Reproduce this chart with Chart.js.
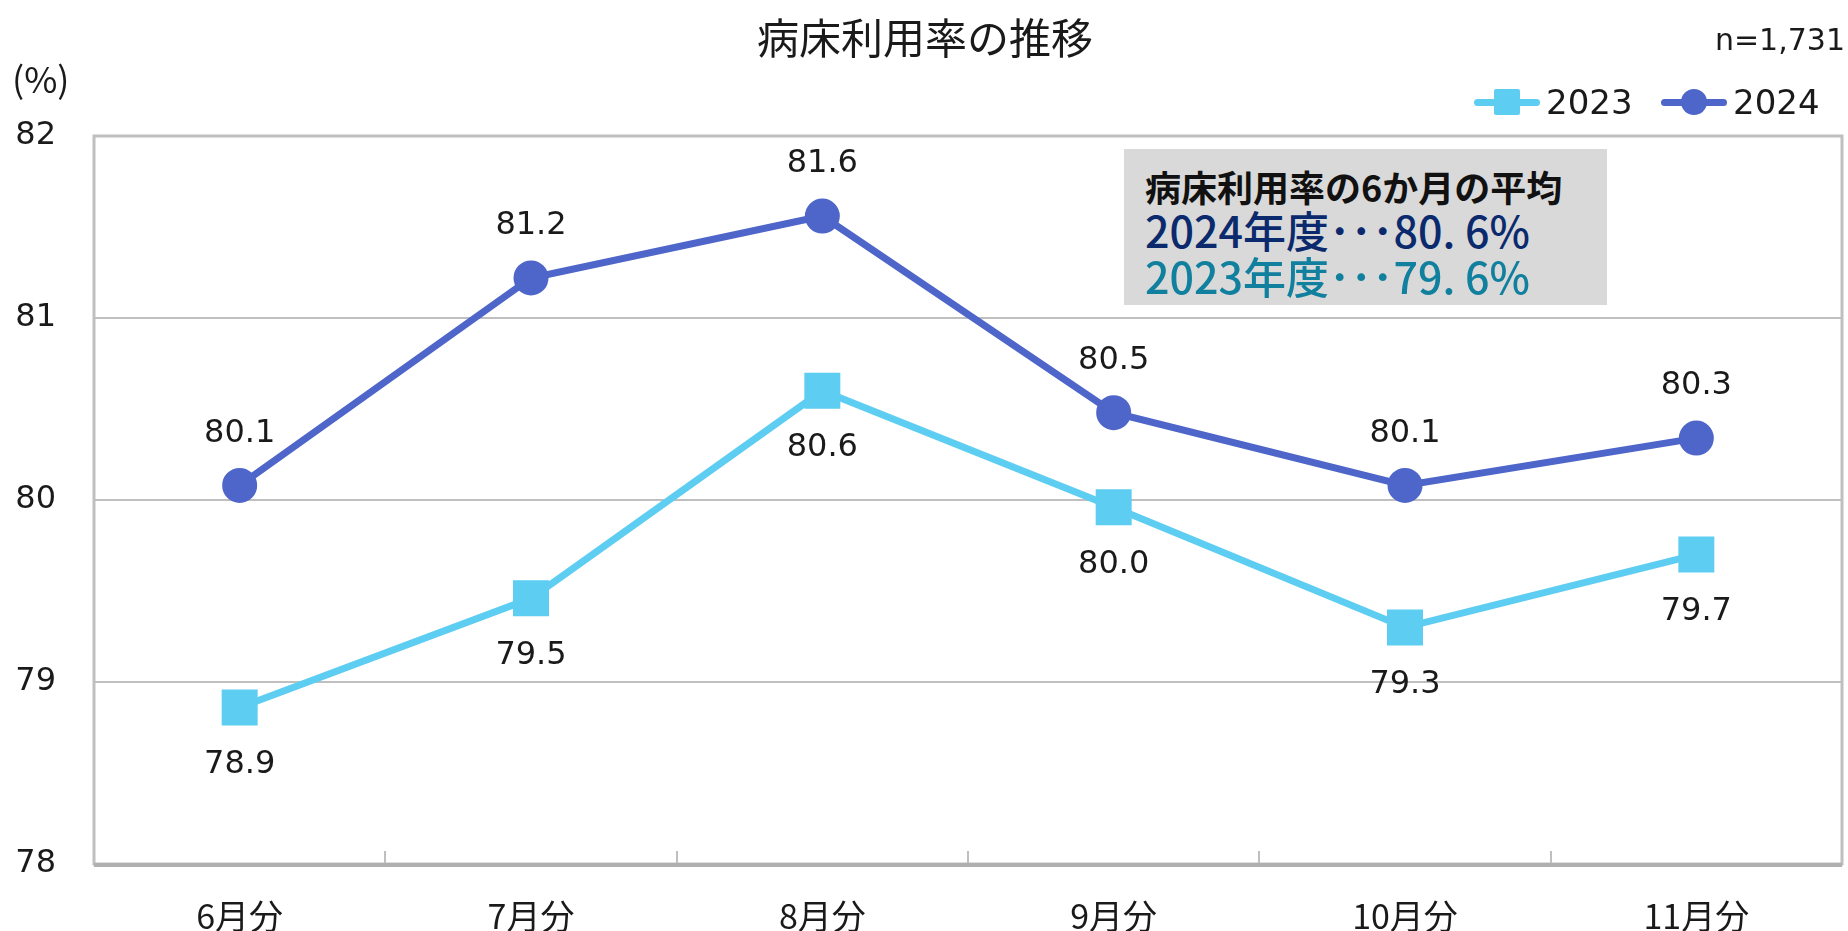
<!DOCTYPE html>
<html lang="ja">
<head>
<meta charset="utf-8">
<script src="https://cdn.jsdelivr.net/npm/chart.js@4"></script>
<style>
  html, body { margin: 0; padding: 0; background: #fff; }
  #wrap { position: relative; width: 1848px; height: 931px; overflow: hidden; }
  #chart { position: absolute; left: 0; top: 0; }
  .txt { position: absolute; white-space: nowrap; color: #1a1a1a; line-height: 1; }
  #title { left: 925px; top: 35px; transform: translate(-50%, -50%); font: 42px "Noto Sans CJK JP"; }
  #unit { left: 12px; top: 77px; transform: translateY(-50%); font: 36px "Noto Sans CJK JP"; }
  #nval { right: 3px; top: 39px; transform: translateY(-50%); font: 30px "DejaVu Sans"; }
  .leg { position: absolute; top: 102px; transform: translateY(-50%); display: flex; align-items: center; font: 34px "DejaVu Sans"; color: #1a1a1a; }
  .leg .ln { position: relative; width: 66px; height: 7px; border-radius: 4px; margin-right: 6px; }
  .leg .mk { position: absolute; left: 50%; top: 50%; transform: translate(-50%, -50%); }
  #box { position: absolute; left: 1124px; top: 149px; width: 483px; height: 156px; background: #d9d9d9; }
  #box div { position: absolute; left: 21px; white-space: nowrap; transform: translateY(-50%); line-height: 1; font-family: "Noto Sans CJK JP"; }
</style>
</head>
<body>
<div id="wrap">
  <canvas id="chart" width="1848" height="931"></canvas>
  <div class="txt" id="title">病床利用率の推移</div>
  <div class="txt" id="unit">(%)</div>
  <div class="txt" id="nval">n=1,731</div>
  <div class="leg" style="left:1474px"><span class="ln" style="background:#5ecdf2"><span class="mk" style="width:26px;height:26px;background:#5ecdf2;border-radius:2px"></span></span>2023</div>
  <div class="leg" style="left:1661px"><span class="ln" style="background:#4e65c9"><span class="mk" style="width:26px;height:26px;background:#4e65c9;border-radius:50%"></span></span>2024</div>
  <div id="box">
    <div style="top:37px;font-size:36px;font-weight:700;color:#111">病床利用率の6か月の平均</div>
    <div style="top:80px;font-size:43px;font-weight:500;color:#0b2a6e">2024年度･･･80. 6%</div>
    <div style="top:126px;font-size:43px;font-weight:500;color:#11809f">2023年度･･･79. 6%</div>
  </div>
</div>
<script>
// データ
var months = ['6月分', '7月分', '8月分', '9月分', '10月分', '11月分'];
var rate2023 = [78.86, 79.46, 80.60, 79.96, 79.30, 79.70];
var rate2024 = [80.08, 81.22, 81.56, 80.48, 80.08, 80.34];
var yTicks = [78, 79, 80, 81, 82];

var COL_2023 = '#5ecdf2';
var COL_2024 = '#4e65c9';
var GRID = '#bfbfbf';

// 値ラベル（2023は下、2024は上）
var labelPlugin = {
  id: 'valueLabels',
  afterDatasetsDraw: function(chart) {
    var ctx = chart.ctx;
    ctx.save();
    ctx.font = '32px "DejaVu Sans"';
    ctx.fillStyle = '#1a1a1a';
    ctx.textAlign = 'center';
    ctx.textBaseline = 'middle';
    chart.data.datasets.forEach(function(ds, di) {
      var meta = chart.getDatasetMeta(di);
      var off = ds.label === '2023' ? 57 : -52;
      meta.data.forEach(function(pt, i) {
        ctx.fillText(ds.data[i].toFixed(1), pt.x, pt.y + off);
      });
    });
    ctx.restore();
  }
};

// 枠線と横軸の目盛り
var framePlugin = {
  id: 'frame',
  beforeDatasetsDraw: function(chart) {
    var a = chart.chartArea, ctx = chart.ctx, x = chart.scales.x;
    ctx.save();
    ctx.strokeStyle = GRID;
    ctx.lineWidth = 3;
    ctx.strokeRect(a.left, a.top, a.right - a.left, a.bottom - a.top);
    ctx.lineWidth = 2;
    ctx.beginPath();
    for (var i = 1; i < months.length; i++) {
      var px = (x.getPixelForValue(i - 1) + x.getPixelForValue(i)) / 2;
      ctx.moveTo(Math.round(px), a.bottom);
      ctx.lineTo(Math.round(px), a.bottom - 13);
    }
    ctx.stroke();
    ctx.strokeStyle = '#b0b0b0';
    ctx.lineWidth = 4;
    ctx.beginPath();
    ctx.moveTo(a.left, a.bottom + 1);
    ctx.lineTo(a.right, a.bottom + 1);
    ctx.stroke();
    ctx.restore();
  }
};

new Chart(document.getElementById('chart').getContext('2d'), {
  type: 'line',
  data: {
    labels: months,
    datasets: [{
      label: '2023',
      data: rate2023,
      borderColor: COL_2023,
      backgroundColor: COL_2023,
      borderWidth: 7,
      pointStyle: 'rect',
      pointRadius: 20.5,
      pointHoverRadius: 20.5,
      tension: 0
    }, {
      label: '2024',
      data: rate2024,
      borderColor: COL_2024,
      backgroundColor: COL_2024,
      borderWidth: 7,
      pointStyle: 'circle',
      pointRadius: 14,
      pointHoverRadius: 14,
      tension: 0
    }]
  },
  options: {
    responsive: false,
    animation: false,
    layout: { autoPadding: false, padding: { top: 136, right: 6, left: 0, bottom: 0 } },
    plugins: { legend: { display: false }, title: { display: false }, tooltip: { enabled: false } },
    scales: {
      x: {
        offset: true,
        grid: { display: false },
        border: { display: false },
        ticks: { color: '#1a1a1a', font: { family: 'Noto Sans CJK JP', size: 34 }, padding: 24 },
        afterFit: function(s) { s.height = 67; s.paddingLeft = 0; s.paddingRight = 0; }
      },
      y: {
        min: 78,
        max: 82,
        afterBuildTicks: function(s) { s.ticks = yTicks.map(function(v) { return { value: v }; }); },
        grid: { color: GRID, lineWidth: 2, drawTicks: false },
        border: { display: false },
        ticks: { color: '#1a1a1a', font: { family: 'DejaVu Sans', size: 32 }, padding: 38 },
        afterFit: function(s) { s.width = 94; }
      }
    }
  },
  plugins: [framePlugin, labelPlugin]
});
</script>
</body>
</html>
